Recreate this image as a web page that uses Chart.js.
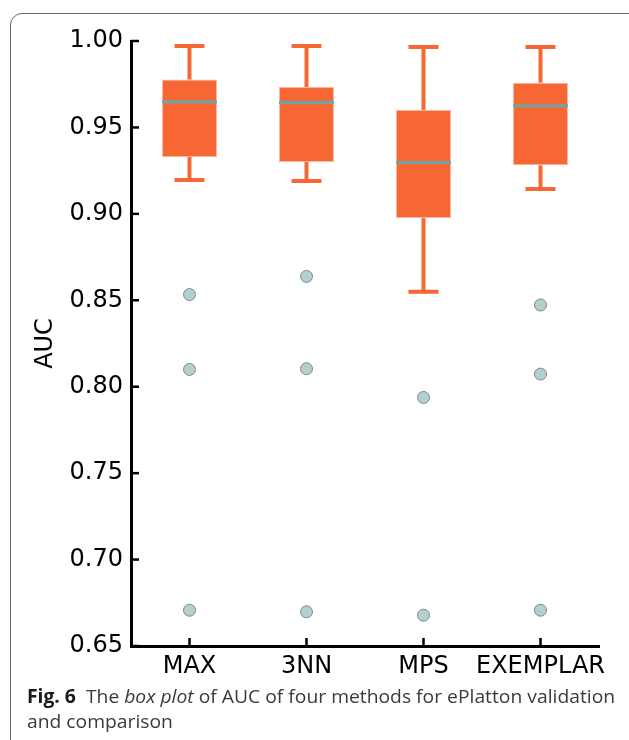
<!DOCTYPE html>
<html>
  <head>
    <script src="https://cdn.jsdelivr.net/npm/chart.js"></script>
    <style>
      body {
        margin: 0;
        padding: 0;
        width: 629px;
        height: 740px;
        overflow: hidden;
        background: #fff;
        position: relative;
      }
      #frame {
        position: absolute;
        left: 10px;
        top: 13px;
        width: 640px;
        height: 760px;
        border: 1px solid #6a6a6a;
        border-radius: 12px;
        box-sizing: border-box;
      }
      #wrap {
        position: absolute;
        left: 0;
        top: 0;
        width: 629px;
        height: 690px;
      }
      #caption {
        position: absolute;
        left: 27px;
        top: 684px;
        font-family: "Open Sans", sans-serif;
        font-size: 19px;
        line-height: 25px;
        color: #3a3a3a;
        white-space: nowrap;
        transform-origin: 0 0;
      }
      #caption b {
        color: #1a1a1a;
      }
    </style>
  </head>
  <body>
    <div id="frame"></div>
    <div id="wrap"><canvas id="boxChart"></canvas></div>
    <div id="caption"><span id="line1"><b>Fig. 6</b>&nbsp; The <i>box plot</i> of AUC of four methods for ePlatton validation</span><br />and comparison</div>
    <script>
      const categories = ["MAX", "3NN", "MPS", "EXEMPLAR"];
      const whiskerLow = [0.9196, 0.919, 0.8549, 0.9144];
      const q1 = [0.9329, 0.93, 0.8976, 0.9281];
      const median = [0.9649, 0.9644, 0.9297, 0.9626];
      const q3 = [0.9777, 0.9734, 0.9601, 0.9759];
      const whiskerHigh = [0.9971, 0.9971, 0.9965, 0.9965];
      const outliers = [
        [0.8533, 0.81, 0.6707],
        [0.8638, 0.8104, 0.6698],
        [0.7938, 0.6678],
        [0.8473, 0.8073, 0.6707],
      ];
      const yTickValues = [0.65, 0.7, 0.75, 0.8, 0.85, 0.9, 0.95, 1.0];

      const orange = "#f66734";
      const teal = "#6ca7a7";

      // whiskers, caps, medians and inward axis ticks
      const boxExtras = {
        id: "boxExtras",
        afterDatasetsDraw(chart) {
          const ctx = chart.ctx;
          const x = chart.scales.x;
          const y = chart.scales.y;
          const bars = chart.getDatasetMeta(0).data;
          ctx.save();
          ctx.strokeStyle = orange;
          ctx.lineWidth = 4;
          categories.forEach((c, i) => {
            const cx = x.getPixelForValue(i);
            ctx.beginPath();
            ctx.moveTo(cx, y.getPixelForValue(whiskerHigh[i]));
            ctx.lineTo(cx, y.getPixelForValue(q3[i]));
            ctx.moveTo(cx, y.getPixelForValue(q1[i]));
            ctx.lineTo(cx, y.getPixelForValue(whiskerLow[i]));
            ctx.moveTo(cx - 15, y.getPixelForValue(whiskerHigh[i]));
            ctx.lineTo(cx + 15, y.getPixelForValue(whiskerHigh[i]));
            ctx.moveTo(cx - 15, y.getPixelForValue(whiskerLow[i]));
            ctx.lineTo(cx + 15, y.getPixelForValue(whiskerLow[i]));
            ctx.stroke();
          });
          ctx.strokeStyle = teal;
          ctx.lineWidth = 3;
          bars.forEach((bar, i) => {
            const my = y.getPixelForValue(median[i]);
            ctx.beginPath();
            ctx.moveTo(bar.x - bar.width / 2, my);
            ctx.lineTo(bar.x + bar.width / 2, my);
            ctx.stroke();
          });
          // ticks pointing into the plot
          ctx.strokeStyle = "#000";
          ctx.lineWidth = 2.5;
          y.ticks.forEach((t) => {
            const ty = y.getPixelForValue(t.value);
            ctx.beginPath();
            ctx.moveTo(y.right, ty);
            ctx.lineTo(y.right + 8, ty);
            ctx.stroke();
          });
          categories.forEach((c, i) => {
            const tx = x.getPixelForValue(i);
            ctx.beginPath();
            ctx.moveTo(tx, x.top);
            ctx.lineTo(tx, x.top - 8);
            ctx.stroke();
          });
          ctx.restore();
        },
      };

      const outlierPoints = [];
      outliers.forEach((vals, i) => {
        vals.forEach((v) => outlierPoints.push({ x: categories[i], y: v }));
      });

      const chartData = {
        labels: categories,
        datasets: [
          {
            type: "bar",
            data: categories.map((c, i) => [q1[i], q3[i]]),
            backgroundColor: orange,
            borderColor: "#fbb8a0",
            borderWidth: 1,
            borderSkipped: false,
            barPercentage: 0.47,
            categoryPercentage: 1.0,
          },
          {
            type: "line",
            data: outlierPoints,
            showLine: false,
            pointRadius: 6,
            pointBackgroundColor: "#b2d0d0",
            pointBorderColor: "#858585",
            pointBorderWidth: 1,
          },
        ],
      };

      const tickFont = { family: "DejaVu Sans", size: 24 };

      new Chart(document.getElementById("boxChart"), {
        type: "bar",
        data: chartData,
        options: {
          responsive: true,
          maintainAspectRatio: false,
          animation: false,
          events: [],
          layout: { padding: { top: 41, right: 30, left: 0, bottom: 0 } },
          plugins: {
            legend: { display: false },
            tooltip: { enabled: false },
          },
          scales: {
            x: {
              offset: true,
              grid: { display: false, drawTicks: false },
              border: { display: true, color: "#000", width: 3 },
              ticks: {
                color: "#000",
                font: tickFont,
                padding: 6,
                autoSkip: false,
                maxRotation: 0,
                minRotation: 0,
              },
              afterFit: (s) => {
                s.height = 44;
              },
            },
            y: {
              min: 0.65,
              max: 1.0,
              afterBuildTicks: (s) => {
                s.ticks = yTickValues.map((v) => ({ value: v }));
              },
              grid: { display: false, drawTicks: false },
              border: { display: true, color: "#000", width: 3 },
              ticks: {
                color: "#000",
                font: tickFont,
                padding: 8,
                callback: (v) => Number(v).toFixed(2),
              },
              title: {
                display: true,
                text: "AUC",
                color: "#000",
                font: tickFont,
                padding: { top: 31, bottom: 0 },
              },
              afterFit: (s) => {
                s.width = 131;
              },
            },
          },
        },
        plugins: [boxExtras],
      });

      // squeeze caption to the reference line width
      const line1 = document.getElementById("line1");
      const cap = document.getElementById("caption");
      const w = line1.getBoundingClientRect().width;
      cap.style.transform = "scaleX(" + (588 / w).toFixed(3) + ")";
    </script>
  </body>
</html>
